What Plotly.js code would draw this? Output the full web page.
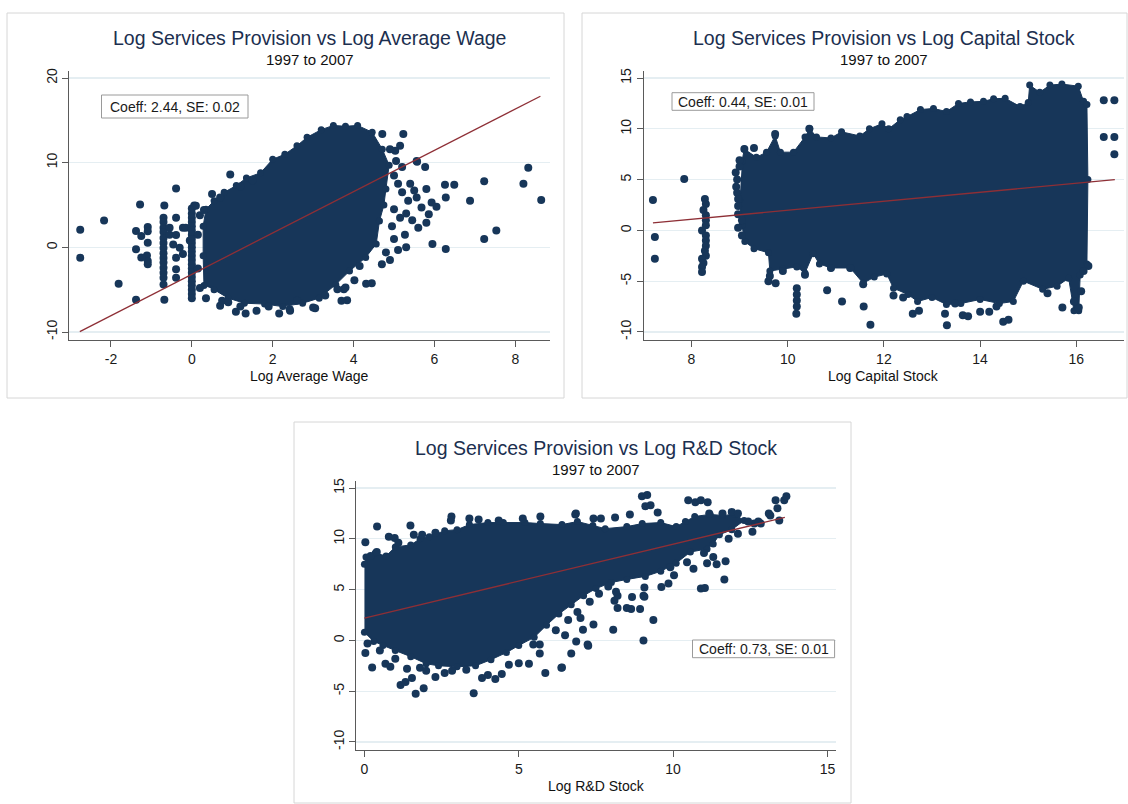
<!DOCTYPE html>
<html>
<head>
<meta charset="utf-8">
<script src="https://cdn.plot.ly/plotly-3.0.1.min.js"></script>
<style>html,body{margin:0;padding:0;background:#fff;}#chart{width:1128px;height:804px;}</style>
</head>
<body>
<div id="chart"></div>
<script>
// ---------------- DATA ----------------
// Panel 1: Log Services Provision vs Log Average Wage
const p1CloudX = [0.30, 0.28, 0.28, 0.35, 0.55, 0.80, 1.10, 1.35, 1.70, 2.00, 2.30, 2.60, 2.85, 3.20, 3.50, 3.80, 4.10, 4.46, 4.71, 4.88, 4.80, 4.75, 4.64, 4.56, 4.30, 3.90, 3.56, 3.15, 2.74, 2.25, 1.80, 1.30, 0.90, 0.55];
const p1CloudY = [-4.5, -1.0, 2.5, 4.5, 5.5, 6.5, 7.3, 8.2, 8.8, 10.4, 11.0, 12.0, 13.0, 13.9, 14.4, 14.3, 14.4, 13.6, 11.6, 9.7, 6.9, 5.0, 3.1, 0.4, -1.2, -2.8, -4.4, -6.0, -6.6, -7.0, -6.7, -6.6, -6.0, -5.0];
const p1PtsX = [-2.76, -2.76, -2.17, -1.81, -1.38, -1.28, -1.38, -1.25, -1.09, -1.09, -1.09, -1.38, -1.11, -1.09, -1.09, -1.25,
  -0.68, -0.70, -0.70, -0.70, -0.70, -0.70, -0.70, -0.70, -0.70, -0.70, -0.70, -0.70, -0.70, -0.70, -0.70, -0.68, -0.55, -0.55,
  -0.39, -0.39, -0.39, -0.46, -0.30, -0.39, -0.39, -0.39, -0.22, -0.22, -0.15, -0.05,
  0, 0, 0, 0, 0, 0, 0, 0, 0, 0, 0, 0, 0, 0, 0, 0, 0, 0, 0, 0, 0, 0, 0.06, 0.10,
  0.15, 0.15, 0.20, 0.20, 0.50, 0.95, 0.30, 0.70, 1.20, 1.50,
  0.35, 0.70, 0.75, 1.09, 1.33, 1.60, 2.16, 2.43, 3.05, 3.84, 3.76, 4.45, 3.70, 3.30, 3.60, 3.80, 4.02, 4.31, 4.15, 2.60, 3.00, 2.42, 1.90, 1.20, 0.90,
  5.23, 4.71, 5.15, 5.03, 5.56, 5.77, 5.57, 6.26, 6.49, 7.23, 6.28, 6.88, 5.80, 6.05, 5.86, 5.80, 5.60, 5.68, 5.56, 5.27, 5.95, 6.28, 5.30, 5.10, 7.23, 7.53, 8.32, 8.20, 8.64, 5.93,
  5.00, 5.10, 5.20, 5.35, 5.00, 5.15, 4.95, 5.00, 4.80, 4.70, 4.90, 5.40, 5.50, 5.30, 5.45, 5.20, 5.05, 4.90];
const p1PtsY = [2.08, -1.22, 3.18, -4.29, -6.18, 5.07, 1.92, 1.33, 2.40, 1.90, 0.55, -0.24, -0.95, -1.60, -2.00, -1.20,
  4.95, 3.50, 3.00, 2.30, 1.80, 1.10, 0.50, -0.08, -0.70, -1.26, -1.80, -2.40, -3.00, -3.60, -4.40, -6.18, 2.30, 1.50,
  6.95, 3.50, 1.45, 0.35, -0.04, -1.22, -2.60, -3.58, 2.30, -0.80, 2.30, 0.80,
  4.0, 3.5, 3.0, 2.5, 2.0, 1.5, 1.0, 0.5, 0.0, -0.5, -1.0, -1.5, -2.0, -2.5, -3.0, -3.5, -4.0, -4.5, -5.0, -5.5, -6.0, 4.6, 4.95, 4.90,
  -2.5, 1.5, -4.8, 3.8, 6.3, 8.6, 4.4, 5.9, 7.2, 7.9,
  -6.0, -6.9, -6.3, -7.6, -7.8, -7.5, -7.8, -7.5, -7.2, -6.26, -4.96, -4.25, -6.3, -5.7, -4.95, -4.75, -3.9, -4.3, -2.2, -6.3, -7.1, -7.3, -7.0, -7.0, -6.5,
  13.4, 13.4, 12.0, 11.4, 10.2, 9.5, 10.1, 7.4, 7.4, 7.8, 5.9, 5.5, 6.9, 4.8, 3.9, 2.9, 2.3, 4.7, 5.9, 1.5, 0.4, -0.2, 0.0, -0.3, 1.0, 2.0, 9.4, 7.5, 5.6, 5.3,
  8.5, 7.5, 6.5, 5.5, 4.5, 3.5, 2.5, 1.0, -0.6, -2.0, -1.5, 7.5, 6.7, 4.0, 3.2, 9.5, 10.2, 11.6];
const p1FitX = [-2.77, 8.62];
const p1FitY = [-9.95, 17.85];
const p1XTicks = [-2, 0, 2, 4, 6, 8];
const p1YTicks = [-10, 0, 10, 20];

// Panel 2: Log Services Provision vs Log Capital Stock
const p2CloudX = [9.05, 9.10, 9.35, 9.56, 9.74, 9.85, 10.12, 10.36, 10.46, 10.60, 10.90, 11.12, 11.50, 11.70, 11.96, 12.10, 12.34, 12.48, 12.76, 13.03, 13.30, 13.55, 13.80, 14.07, 14.28, 14.52, 14.83, 15.00, 15.03, 15.24, 15.45, 15.70, 16.04, 16.15, 16.22, 16.24, 16.22, 16.08, 16.05, 15.95, 15.84, 15.60, 15.30, 14.90, 14.69, 14.40, 14.00, 13.60, 13.30, 13.00, 12.70, 12.50, 12.20, 12.06, 11.80, 11.57, 11.30, 10.90, 10.66, 10.53, 10.36, 10.19, 9.90, 9.63, 9.60, 9.30, 9.11, 9.05, 9.00];
const p2CloudY = [6.8, 8.0, 7.2, 7.7, 9.3, 7.7, 7.7, 9.2, 10.0, 9.2, 9.1, 9.7, 9.3, 10.0, 10.5, 10.0, 10.9, 11.2, 11.9, 12.0, 11.7, 12.5, 12.65, 12.7, 12.96, 13.0, 12.2, 12.6, 14.3, 13.6, 14.3, 14.4, 14.2, 12.7, 12.4, 5.0, -3.3, -4.4, -7.9, -7.9, -4.7, -5.5, -5.8, -5.0, -7.0, -7.2, -6.8, -7.2, -7.3, -6.6, -7.0, -6.3, -5.7, -4.3, -4.6, -5.2, -3.7, -3.7, -3.3, -2.3, -4.2, -3.6, -3.8, -4.0, -2.2, -1.8, -1.1, 0.5, 3.0];
const p2PtsX = [7.20, 7.24, 7.24, 7.85,
  8.28, 8.30, 8.25, 8.30, 8.30, 8.30, 8.22, 8.30, 8.30, 8.30, 8.28, 8.30, 8.22, 8.25, 8.22, 8.22,
  8.92, 8.95, 8.93, 8.95, 8.97, 8.97, 8.97, 8.97, 9.00, 9.00, 9.05, 9.05,
  9.10, 9.74, 10.45, 9.30,
  10.18, 10.19, 10.19, 10.19, 10.19, 10.36, 10.82, 11.13, 11.58, 11.72, 12.60, 12.73, 13.27, 13.31, 13.48, 13.64, 13.75, 14.00, 14.19, 14.34, 14.48, 14.59, 15.71, 9.60, 9.63, 9.75, 9.90, 10.90, 11.30, 11.57, 12.40, 12.20, 15.40, 16.05, 15.95, 16.10,
  16.57, 16.79, 16.57, 16.79, 16.79, 16.25, 16.15];
const p2PtsY = [3.0, -0.66, -2.8, 5.05,
  3.1, 2.6, 2.0, 1.5, 1.0, 0.5, 0.0, -0.5, -1.0, -1.5, -2.0, -2.5, -2.8, -3.2, -3.6, -4.1,
  5.7, 5.0, 4.3, 3.7, 3.1, 2.4, 1.6, 0.26, 6.9, 6.3, 1.0, -0.5,
  8.0, 9.5, 10.0, 8.1,
  -8.2, -5.7, -6.3, -6.9, -7.5, -4.36, -5.9, -7.0, -7.5, -9.3, -8.2, -7.9, -8.2, -9.35, -7.2, -8.36, -8.46, -8.0, -8.0, -7.5, -9.0, -8.8, -7.6, -5.0, -4.5, -5.2, -4.0, -3.7, -3.7, -5.3, -6.6, -6.4, -6.2, -7.6, -7.0, -6.0,
  12.8, 12.8, 9.2, 9.2, 7.5, -3.5, -4.0];
const p2FitX = [7.2, 16.8];
const p2FitY = [0.74, 4.99];
const p2XTicks = [8, 10, 12, 14, 16];
const p2YTicks = [-10, -5, 0, 5, 10, 15];

// Panel 3: Log Services Provision vs Log R&D Stock
const p3CloudX = [0.00, 0.05, 0.35, 0.70, 1.00, 1.50, 1.80, 2.10, 2.60, 3.00, 3.40, 4.00, 4.50, 5.20, 5.70, 6.40, 6.90, 7.40, 7.80, 8.50, 9.00, 9.60, 10.10, 10.40, 10.70, 11.20, 11.60, 12.00, 12.30, 11.90, 11.50, 11.30, 11.10, 10.56, 10.10, 9.60, 9.10, 8.50, 8.00, 7.50, 7.10, 6.70, 6.30, 5.90, 5.50, 5.00, 4.60, 4.10, 3.60, 3.00, 2.40, 2.00, 1.50, 1.00, 0.60, 0.30, 0.00];
const p3CloudY = [7.5, 8.2, 8.6, 8.3, 9.2, 9.4, 10.0, 10.2, 10.8, 10.9, 11.4, 11.6, 11.6, 11.6, 11.5, 11.4, 11.7, 11.3, 11.0, 11.2, 11.5, 11.6, 11.2, 11.7, 12.2, 12.4, 12.3, 12.4, 11.8, 10.9, 10.4, 9.5, 9.0, 8.7, 7.6, 6.8, 6.3, 6.0, 5.7, 5.1, 4.4, 3.5, 2.6, 1.5, 0.3, -0.5, -1.2, -1.9, -2.5, -2.6, -2.5, -2.3, -1.6, -1.0, -0.5, -0.1, 0.8];
const p3PtsX = [0.03, 0.41, 0.79, 0.98, 1.49, 1.60, 1.87, 2.82, 2.80, 3.40, 3.70, 4.35, 5.13, 5.70, 6.83, 6.85, 7.42, 7.66, 8.12, 8.99, 9.16, 9.27, 9.10, 9.50, 8.60, 10.49, 10.72, 10.90, 11.12, 11.17, 11.60, 11.90, 12.10, 12.63, 12.84, 13.15, 13.32, 13.38, 13.44, 13.60, 13.67, 13.10, 12.57, 12.43, 12.76, 0.20, 0.40, 1.10, 2.30,
  0.03, 0.25, 0.68, 0.84, 1.17, 1.33, 1.54, 1.66, 1.92, 1.38, 2.30, 2.60, 2.84, 3.54, 3.81, 4.00, 4.24, 4.45, 4.68, 5.00, 5.33, 5.86, 6.40, 5.47, 5.68, 5.68, 6.70, 6.38, 0.10, 0.50, 1.00, 1.80, 3.30, 2.00,
  11.66, 10.90, 11.03, 9.36, 9.04, 8.06, 9.04, 8.67, 8.64, 8.93, 8.10, 8.20, 7.42, 7.08, 7.25, 6.86, 7.23, 8.20, 8.50, 9.07, 8.15, 9.07, 11.41, 11.10, 10.66, 10.45, 10.03, 9.85, 9.62, 9.91, 7.90, 7.60, 7.30, 6.90, 6.60, 6.20, 6.50, 7.00, 11.30, 11.70, 11.00, 12.10, 11.80];
const p3PtsY = [9.67, 11.2, 10.2, 10.07, 11.3, 10.4, 10.4, 12.2, 11.8, 12.0, 11.9, 11.8, 12.0, 12.2, 12.4, 12.5, 12.0, 12.0, 12.1, 14.2, 14.3, 13.3, 13.2, 12.6, 12.4, 13.8, 13.6, 13.8, 13.6, 12.5, 12.5, 12.65, 12.5, 11.5, 11.5, 12.3, 13.8, 13.0, 11.8, 13.8, 14.2, 12.5, 10.7, 11.7, 11.7, 8.3, 8.7, 9.6, 10.6,
  -1.25, -2.66, -2.3, -2.6, -4.4, -4.1, -3.7, -5.25, -4.7, -2.8, -3.6, -3.2, -3.0, -5.2, -3.7, -3.4, -3.8, -3.3, -2.4, -2.25, -2.3, -3.2, -2.66, -0.4, -0.4, -1.3, -1.3, -2.7, -0.3, -1.0, -1.8, -2.7, -2.9, -3.0,
  6.0, 5.1, 5.15, 2.0, 0.0, 1.05, 4.4, 4.27, 3.1, 3.1, 3.9, 4.4, 1.57, 1.05, -0.52, -0.1, -0.4, 3.2, 3.2, 4.3, 4.8, 5.2, 7.5, 7.6, 7.05, 7.7, 6.4, 5.6, 5.25, 7.2, 5.3, 4.6, 3.8, 2.8, 2.0, 1.0, 0.5, 2.2, 8.2, 7.8, 8.6, 10.5, 10.0];
const p3FitX = [0.0, 13.62];
const p3FitY = [2.2, 12.1];
const p3XTicks = [0, 5, 10, 15];
const p3YTicks = [-10, -5, 0, 5, 10, 15];

// Text
const titles = ["Log Services Provision vs Log Average Wage", "Log Services Provision vs Log Capital Stock", "Log Services Provision vs Log R&D Stock"];
const subtitle = "1997 to 2007";
const xTitles = ["Log Average Wage", "Log Capital Stock", "Log R&D Stock"];
const coeffText = ["Coeff: 2.44, SE: 0.02", "Coeff: 0.44, SE: 0.01", "Coeff: 0.73, SE: 0.01"];

// ---------------- STYLE ----------------
const W = 1128, H = 804;
const NAVY = "#173659";
const MAROON = "#8e2f36";
const FONT = "Liberation Sans, Arial, Helvetica, sans-serif";
const px = v => v / W;
const py = v => 1 - v / H;

function panelTraces(cx, cy, ptx, pty, fx, fy, xa, ya) {
  return [
    {type: "scatter", mode: "lines+markers", x: cx, y: cy, fill: "toself", fillcolor: NAVY,
     line: {color: NAVY, width: 1}, marker: {size: 7, color: NAVY, line: {width: 0}},
     xaxis: xa, yaxis: ya, hoverinfo: "skip", showlegend: false},
    {type: "scatter", mode: "markers", x: ptx, y: pty, marker: {size: 8, color: NAVY, line: {width: 0}},
     xaxis: xa, yaxis: ya, hoverinfo: "skip", showlegend: false, cliponaxis: false},
    {type: "scatter", mode: "lines", x: fx, y: fy, line: {color: MAROON, width: 1.3},
     xaxis: xa, yaxis: ya, hoverinfo: "skip", showlegend: false}
  ];
}

const data = [].concat(
  panelTraces(p1CloudX, p1CloudY, p1PtsX, p1PtsY, p1FitX, p1FitY, "x", "y"),
  panelTraces(p2CloudX, p2CloudY, p2PtsX, p2PtsY, p2FitX, p2FitY, "x2", "y2"),
  panelTraces(p3CloudX, p3CloudY, p3PtsX, p3PtsY, p3FitX, p3FitY, "x3", "y3")
);

function xAxis(domain, range, ticks, anchor) {
  return {domain: domain, range: range, tickvals: ticks, ticktext: ticks.map(String), anchor: anchor,
    ticks: "outside", ticklen: 6, tickcolor: "#5a5a5a", tickwidth: 1,
    showline: true, linecolor: "#5a5a5a", linewidth: 1, showgrid: false, zeroline: false,
    tickfont: {family: FONT, size: 14, color: "#1a1a1a"}, fixedrange: true};
}
function yAxis(domain, range, ticks, anchor) {
  return {domain: domain, range: range, tickvals: ticks, ticktext: ticks.map(String), anchor: anchor,
    ticks: "outside", ticklen: 6, tickcolor: "#5a5a5a", tickwidth: 1, tickangle: -90,
    showline: true, linecolor: "#5a5a5a", linewidth: 1, showgrid: true, gridcolor: "#e5eef2", gridwidth: 1.2,
    zeroline: false, tickfont: {family: FONT, size: 14, color: "#1a1a1a"}, fixedrange: true};
}

const topY = [py(340), py(71)];
const botY = [py(750), py(481)];

function ann(text, x, y, size, color) {
  return {text: text, x: px(x), y: py(y), xref: "paper", yref: "paper", xanchor: "center", yanchor: "middle",
    showarrow: false, font: {family: FONT, size: size, color: color}};
}
function rect(x0, y0, x1, y1, color, fill) {
  return {type: "rect", xref: "paper", yref: "paper", x0: px(x0), x1: px(x1), y0: py(y1), y1: py(y0),
    line: {color: color, width: 1}, fillcolor: fill || "rgba(0,0,0,0)", layer: fill ? "above" : "below"};
}

const layout = {
  width: W, height: H, autosize: false,
  margin: {l: 0, r: 0, t: 0, b: 0},
  paper_bgcolor: "#ffffff", plot_bgcolor: "#ffffff",
  showlegend: false,
  xaxis: xAxis([px(69.3), px(549.7)], [-3.03, 8.85], p1XTicks, "y"),
  yaxis: yAxis(topY, [-10.945, 20.83], p1YTicks, "x"),
  xaxis2: xAxis([px(643.8), px(1123.5)], [7.01, 16.98], p2XTicks, "y2"),
  yaxis2: yAxis(topY, [-10.79, 15.69], p2YTicks, "x2"),
  xaxis3: xAxis([px(356.4), px(836.4)], [-0.26, 15.29], p3XTicks, "y3"),
  yaxis3: yAxis(botY, [-10.79, 15.69], p3YTicks, "x3"),
  shapes: [
    rect(7, 13, 564, 398, "#d6d6d6"),
    rect(582, 13, 1127, 398, "#d6d6d6"),
    rect(294, 422, 851, 803, "#d6d6d6"),
    rect(101.5, 95, 248, 118, "#9a9a9a", "#ffffff"),
    rect(672, 92.7, 814, 110.3, "#9a9a9a", "#ffffff"),
    rect(692.5, 640, 834.6, 657.7, "#9a9a9a", "#ffffff")
  ],
  annotations: [
    ann(titles[0], 309.5, 38, 19.5, "#1c2f4f"),
    ann(subtitle, 309.5, 59.5, 15, "#111111"),
    ann(xTitles[0], 309.5, 376, 14, "#111111"),
    ann(titles[1], 883.7, 38, 19.5, "#1c2f4f"),
    ann(subtitle, 883.7, 59.5, 15, "#111111"),
    ann(xTitles[1], 883.7, 376, 14, "#111111"),
    ann(titles[2], 596.4, 448, 19.5, "#1c2f4f"),
    ann(subtitle, 596.4, 469.5, 15, "#111111"),
    ann(xTitles[2], 596.4, 785.5, 14, "#111111"),
    ann(coeffText[0], 174.8, 106.5, 14, "#1a1a1a"),
    ann(coeffText[1], 743, 101.5, 14, "#1a1a1a"),
    ann(coeffText[2], 763.5, 649, 14, "#1a1a1a")
  ]
};

Plotly.newPlot("chart", data, layout, {displayModeBar: false, staticPlot: true});
</script>
</body>
</html>
